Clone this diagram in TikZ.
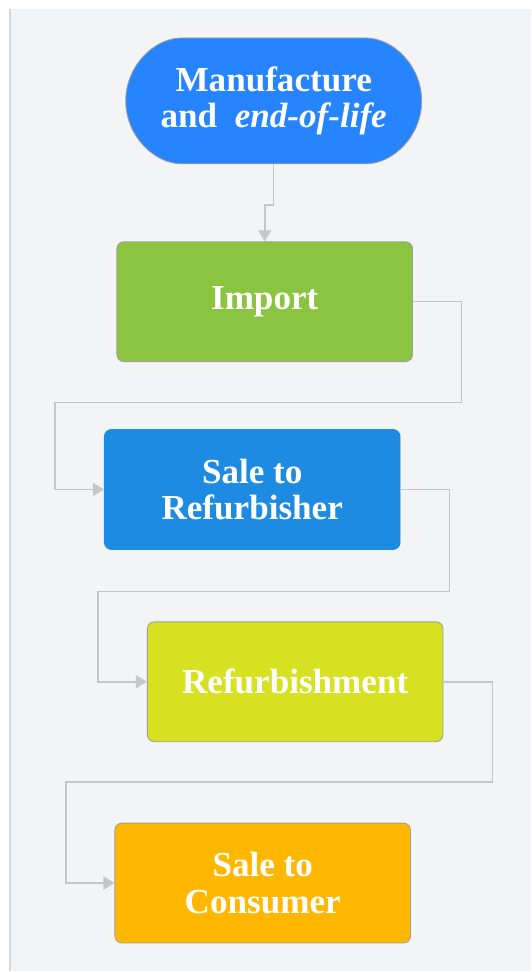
\documentclass[tikz,border=0pt]{standalone}
\usepackage{fontspec}
\setmainfont{Liberation Serif}[BoldFont={Liberation Serif Bold},
BoldItalicFont={Liberation Serif Bold Italic}]
\usetikzlibrary{arrows.meta,positioning,shapes.misc}
\definecolor{panelgray}{HTML}{F3F4F6}
\definecolor{edgegray}{HTML}{D6D7D9}
\definecolor{linkgray}{HTML}{C6C6C6}
\definecolor{mfblue}{HTML}{2684FF}
\definecolor{impgreen}{HTML}{8AC440}
\definecolor{refblue}{HTML}{1E8BE3}
\definecolor{refyellow}{HTML}{D7E021}
\definecolor{conorange}{HTML}{FFB700}

\begin{document}
\begin{tikzpicture}[
x=0.02cm,y=-0.02cm,
stepbox/.style={draw=gray!75,line width=0.5pt,rounded corners=4pt,
minimum width=5.92cm,minimum height=2.4cm,align=center,
font=\fontsize{20}{21}\selectfont\bfseries,text=white},
terminal/.style={stepbox,rounded rectangle,minimum width=6.16cm,
minimum height=2.52cm},
arr/.style={-{Triangle[length=2.2mm,width=2.6mm]},draw=linkgray,
line width=0.9pt}
]
% canvas
\fill[white] (0,0) rectangle (532,972);
\fill[panelgray] (10,9) rectangle (532,972);
\draw[edgegray,line width=1.2pt] (10,9) -- (10,972);

\node[terminal,fill=mfblue] (manuf) at (274,101)
  {Manufacture \\ and \ \textit{end-of-life}};
\node[stepbox,fill=impgreen] (import) at (265,302) {Import};
\node[stepbox,fill=refblue,draw=refblue] (salref) at (252.5,490)
  {Sale to \\ Refurbisher};
\node[stepbox,fill=refyellow] (refurb) at (295.5,682.5) {Refurbishment};
\node[stepbox,fill=conorange] (salcon) at (263,884) {Sale to \\ Consumer};

\draw[arr] (manuf.south) -- ++(0,41) -| (import.north);
\foreach \a/\b/\xr/\ym/\xl in {import/salref/462/403/55,
salref/refurb/450/592/98,refurb/salcon/493/783/66}
\draw[arr] (\a.east) -| (\xr,\ym) -- (\xl,\ym) |- (\b.west);
\end{tikzpicture}
\end{document}
